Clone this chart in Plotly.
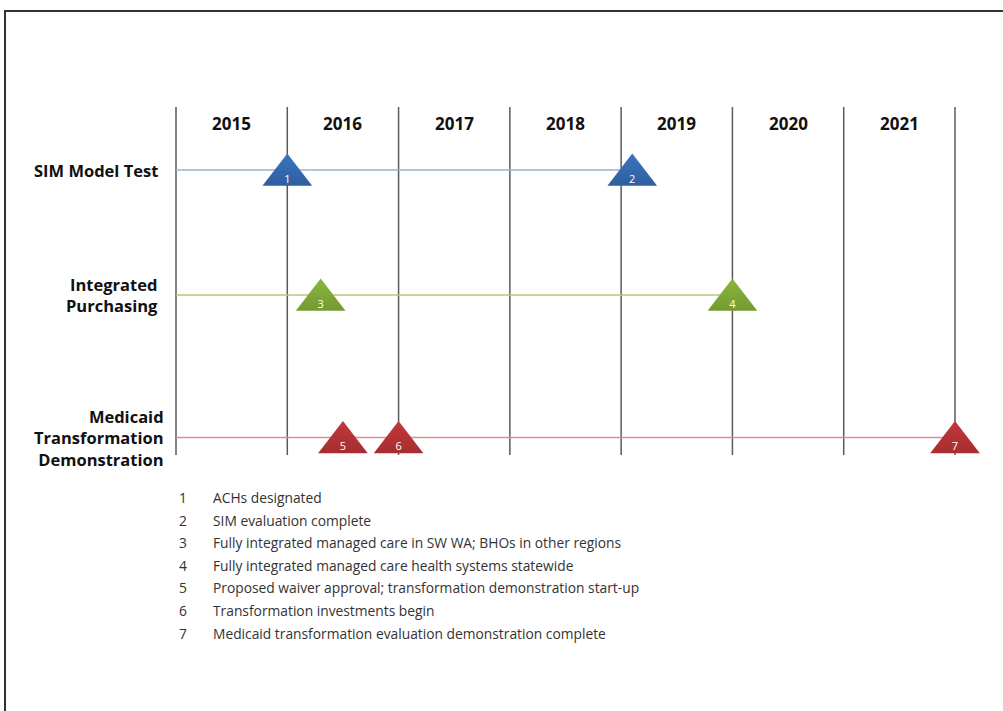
import plotly.graph_objects as go

# ---- data ----
years = ["2015", "2016", "2017", "2018", "2019", "2020", "2021"]
year_start = 2015
rows = ["SIM Model Test", "Integrated<br>Purchasing", "Medicaid<br>Transformation<br>Demonstration"]
milestone_ids = [1, 2, 3, 4, 5, 6, 7]
milestone_row = [0, 0, 1, 1, 2, 2, 2]
milestone_date = [2016.0, 2019.1, 2016.3, 2020.0, 2016.5, 2017.0, 2022.0]
row_end = [2019.0, 2020.0, 2022.0]
legend_text = [
    "ACHs designated",
    "SIM evaluation complete",
    "Fully integrated managed care in SW WA; BHOs in other regions",
    "Fully integrated managed care health systems statewide",
    "Proposed waiver approval; transformation demonstration start-up",
    "Transformation investments begin",
    "Medicaid transformation evaluation demonstration complete",
]

# ---- layout constants ----
W, H = 1003, 711
px_per_year = 779 / 7.0
x0_px = 176
xr = [year_start - x0_px / px_per_year, year_start + (W - x0_px) / px_per_year]
row_y = [170, 295, 437.5]
row_label_right = [160, 160, 166]
grid_top, grid_bot = 107, 455
tri_color = ["#3b74c0", "#8bb63f", "#c2383b"]
tri_color_dark = ["#2e5f9f", "#739a30", "#a62d30"]
line_color = ["#98b2cc", "#b3c878", "#dc8c95"]
font = "Open Sans"

fig = go.Figure()

shapes = []
# vertical year boundary lines
for i in range(len(years) + 1):
    xv = year_start + i
    shapes.append(dict(type="line", xref="x", yref="y", x0=xv, x1=xv, y0=grid_top, y1=grid_bot,
                       line=dict(color="#5a5a5a", width=1.5), layer="below"))
# row lines
for r in range(len(rows)):
    shapes.append(dict(type="line", xref="x", yref="y", x0=year_start, x1=row_end[r],
                       y0=row_y[r], y1=row_y[r], line=dict(color=line_color[r], width=1.3), layer="below"))
# frame
shapes.append(dict(type="rect", xref="paper", yref="paper", x0=5 / W, x1=1.02, y0=-0.02, y1=1 - 11 / H,
                   line=dict(color="#333333", width=2), fillcolor="rgba(0,0,0,0)"))

# triangles per row
for r in range(len(rows)):
    xs = [d for d, rr in zip(milestone_date, milestone_row) if rr == r]
    ids = [m for m, rr in zip(milestone_ids, milestone_row) if rr == r]
    fig.add_trace(go.Scatter(
        x=xs, y=[row_y[r] + 5] * len(xs), mode="markers",
        marker=dict(symbol="triangle-up", size=43, color=tri_color[r],
                    line=dict(width=0),
                    gradient=dict(type="vertical", color=tri_color_dark[r])),
        cliponaxis=False, showlegend=False, hoverinfo="skip"))
    fig.add_trace(go.Scatter(
        x=xs, y=[row_y[r] + 10] * len(xs), mode="text", text=[str(i) for i in ids],
        textfont=dict(family=font, size=11, color="white"),
        cliponaxis=False, showlegend=False, hoverinfo="skip"))

annotations = []
# year labels
for i, yl in enumerate(years):
    annotations.append(dict(x=year_start + i + 0.5, y=123, xref="x", yref="y", text="<b>%s</b>" % yl,
                            showarrow=False, font=dict(family=font, size=17, color="#111111")))
# row labels
for r, lab in enumerate(rows):
    annotations.append(dict(x=row_label_right[r] / W, y=row_y[r], xref="paper", yref="y",
                            text="<b>%s</b>" % lab, showarrow=False, xanchor="right", align="right",
                            font=dict(family=font, size=16.5, color="#111111")))
# legend list
for i, (mid, txt) in enumerate(zip(milestone_ids, legend_text)):
    yy = 497.5 + i * 22.6
    annotations.append(dict(x=183 / W, y=yy, xref="paper", yref="y", text=str(mid), showarrow=False,
                            xanchor="center", font=dict(family=font, size=13.8, color="#333333")))
    annotations.append(dict(x=211 / W, y=yy, xref="paper", yref="y", text=txt, showarrow=False,
                            xanchor="left", font=dict(family=font, size=13.8, color="#333333")))

fig.update_layout(
    width=W, height=H, margin=dict(l=0, r=0, t=0, b=0),
    paper_bgcolor="white", plot_bgcolor="white",
    xaxis=dict(range=xr, visible=False, fixedrange=True),
    yaxis=dict(range=[H, 0], visible=False, fixedrange=True),
    shapes=shapes, annotations=annotations, showlegend=False,
)

fig.write_html("out.html", config={"displayModeBar": False},
               post_script="document.body.style.margin='0px';document.body.style.overflow='hidden';")
